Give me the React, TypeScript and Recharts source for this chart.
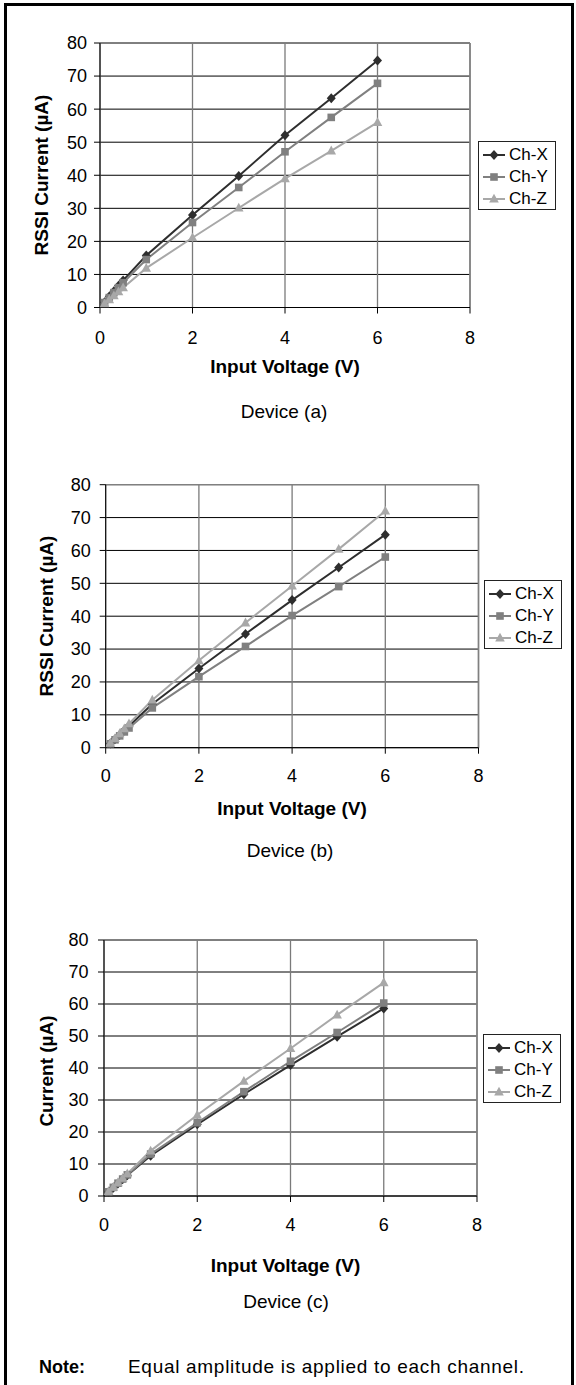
import React from 'react';
import { LineChart, Line, XAxis, YAxis, CartesianGrid, ReferenceLine, Legend } from 'recharts';

// ---------- data ----------
const voltage = [0.1, 0.2, 0.3, 0.4, 0.5, 1, 2, 3, 4, 5, 6];
const xTicks = [0, 2, 4, 6, 8];
const yTicks = [0, 10, 20, 30, 40, 50, 60, 70, 80];
const seriesNames = ['Ch-X', 'Ch-Y', 'Ch-Z'];

const devAX = [1.6, 3.3, 4.9, 6.6, 8.2, 15.7, 28.0, 39.8, 52.1, 63.3, 74.7];
const devAY = [1.5, 3.0, 4.5, 6.0, 7.5, 14.5, 25.7, 36.3, 47.1, 57.5, 67.8];
const devAZ = [1.2, 2.4, 3.6, 4.8, 6.0, 11.9, 21.1, 30.1, 39.0, 47.4, 56.0];

const devBX = [1.3, 2.6, 3.9, 5.2, 6.6, 13.3, 24.1, 34.6, 44.9, 54.8, 64.8];
const devBY = [1.2, 2.4, 3.6, 4.8, 6.0, 12.1, 21.6, 30.8, 40.2, 49.0, 58.0];
const devBZ = [1.4, 2.8, 4.3, 5.8, 7.3, 14.5, 26.5, 38.0, 49.2, 60.4, 72.0];

const devCX = [1.3, 2.6, 3.9, 5.2, 6.5, 12.6, 22.4, 31.8, 40.9, 49.8, 58.6];
const devCY = [1.3, 2.7, 4.0, 5.3, 6.6, 13.1, 22.9, 32.6, 42.1, 51.1, 60.3];
const devCZ = [1.4, 2.8, 4.2, 5.6, 7.0, 14.1, 25.3, 35.9, 46.1, 56.6, 66.7];

const captions = ['Device (a)', 'Device (b)', 'Device (c)'];
const yTitles = ['RSSI Current (µA)', 'RSSI Current (µA)', 'Current (µA)'];
const xTitle = 'Input Voltage (V)';
const noteLabel = 'Note:';
const noteText = 'Equal amplitude is applied to each channel.';

// ---------- styles ----------
const FONT = '"Liberation Sans", Arial, Helvetica, sans-serif';
const CHART_W = 576;
const CHART_H = 440;
const Y_AXIS_W = 60;
const X_AXIS_H = 60;

const seriesStyle: Record<string, { color: string; shape: string; key: string }> = {
  'Ch-X': { color: '#2e2e2e', shape: 'diamond', key: 'x' },
  'Ch-Y': { color: '#808080', shape: 'square', key: 'y' },
  'Ch-Z': { color: '#a8a8a8', shape: 'triangle', key: 'z' },
};

const layouts = [
  {
    top: 0, plotLeft: 100, plotRight: 470, plotTop: 43, plotBottom: 307.5,
    yTitleX: 41.7, yTitleY: 175, xTitleX: 285, xTitleY: 366.7,
    xTickMargin: 18, yTickMargin: 7, legendLeft: 478, legendTop: 141,
    captionX: 284, captionY: 411.7,
  },
  {
    top: 440, plotLeft: 105.7, plotRight: 478.5, plotTop: 44.7, plotBottom: 307.7,
    yTitleX: 46, yTitleY: 176, xTitleX: 292, xTitleY: 368,
    xTickMargin: 16, yTickMargin: 9, legendLeft: 484, legendTop: 140,
    captionX: 290, captionY: 411,
  },
  {
    top: 880, plotLeft: 104, plotRight: 477, plotTop: 60, plotBottom: 316,
    yTitleX: 46, yTitleY: 191, xTitleX: 285.5, xTitleY: 385,
    xTickMargin: 16, yTickMargin: 9.5, legendLeft: 483, legendTop: 154,
    captionX: 286, captionY: 422,
  },
];

const deviceSeries = [
  [devAX, devAY, devAZ],
  [devBX, devBY, devBZ],
  [devCX, devCY, devCZ],
];

function Marker({ shape, cx, cy, color }: { shape: string; cx: number; cy: number; color: string }) {
  if (cx == null || cy == null || isNaN(cx) || isNaN(cy)) return null;
  if (shape === 'diamond') {
    return <path d={`M${cx},${cy - 5} L${cx + 4.5},${cy} L${cx},${cy + 5} L${cx - 4.5},${cy} Z`} fill={color} />;
  }
  if (shape === 'square') {
    return <rect x={cx - 3.8} y={cy - 3.8} width={7.6} height={7.6} fill={color} />;
  }
  return <path d={`M${cx},${cy - 5.2} L${cx + 4.8},${cy + 3.6} L${cx - 4.8},${cy + 3.6} Z`} fill={color} />;
}

function LegendBox(props: any) {
  const payload = (props && props.payload) || [];
  const items = payload.length ? payload : seriesNames.map((n) => ({ value: n }));
  return (
    <div
      style={{
        border: '1px solid #222',
        width: 78,
        height: 69,
        boxSizing: 'border-box',
        background: '#fff',
        fontFamily: FONT,
        fontSize: 17,
        color: '#000',
        paddingTop: 2,
      }}
    >
      {items.map((it: any) => {
        const st = seriesStyle[it.value];
        return (
          <div key={it.value} style={{ display: 'flex', alignItems: 'center', height: 22 }}>
            <svg width={26} height={14} style={{ marginLeft: 3, display: 'block' }}>
              <line x1={1} y1={7} x2={23} y2={7} stroke={st.color} strokeWidth={2} />
              <Marker shape={st.shape} cx={12} cy={7} color={st.color} />
            </svg>
            <span style={{ marginLeft: 1, lineHeight: '22px' }}>{it.value}</span>
          </div>
        );
      })}
    </div>
  );
}

function DeviceChart({ idx }: { idx: number }) {
  const L = layouts[idx];
  const [xs, ys, zs] = deviceSeries[idx];
  const data = voltage.map((v, i) => ({ v, x: xs[i], y: ys[i], z: zs[i] }));
  const margin = {
    top: L.plotTop,
    left: L.plotLeft - Y_AXIS_W,
    right: CHART_W - L.plotRight,
    bottom: CHART_H - L.plotBottom - X_AXIS_H,
  };
  const yTitle = yTitles[idx];
  const tickStyle = { fill: '#000', fontSize: 18, fontFamily: FONT };

  return (
    <div style={{ position: 'absolute', left: 0, top: L.top, width: CHART_W, height: CHART_H }}>
      <LineChart width={CHART_W} height={CHART_H} data={data} margin={margin}>
        <CartesianGrid vertical={false} stroke="#000" strokeWidth={1} />
        <CartesianGrid horizontal={false} stroke="#7a7a7a" strokeWidth={1.3} />
        <ReferenceLine y={80} stroke="#808080" strokeWidth={1.2} />
        <ReferenceLine x={8} stroke="#808080" strokeWidth={1.5} />
        <XAxis
          dataKey="v"
          type="number"
          domain={[0, 8]}
          ticks={xTicks}
          interval={0}
          height={X_AXIS_H}
          tickSize={6}
          tickMargin={L.xTickMargin}
          tick={tickStyle}
          axisLine={{ stroke: '#000', strokeWidth: 1 }}
          tickLine={{ stroke: '#000' }}
          label={() => (
            <text
              x={L.xTitleX}
              y={L.xTitleY}
              textAnchor="middle"
              dominantBaseline="central"
              fontFamily={FONT}
              fontWeight="bold"
              fontSize={19}
              fill="#000"
            >
              {xTitle}
            </text>
          )}
        />
        <YAxis
          type="number"
          domain={[0, 80]}
          ticks={yTicks}
          interval={0}
          width={Y_AXIS_W}
          tickSize={6}
          tickMargin={L.yTickMargin}
          tick={tickStyle}
          axisLine={{ stroke: '#000', strokeWidth: 1 }}
          tickLine={{ stroke: '#000' }}
          label={() => (
            <text
              x={L.yTitleX}
              y={L.yTitleY}
              transform={`rotate(-90 ${L.yTitleX} ${L.yTitleY})`}
              textAnchor="middle"
              dominantBaseline="central"
              fontFamily={FONT}
              fontWeight="bold"
              fontSize={19}
              fill="#000"
            >
              {yTitle}
            </text>
          )}
        />
        <Legend
          layout="vertical"
          align="center"
          verticalAlign="middle"
          content={(p: any) => <LegendBox {...p} />}
          wrapperStyle={{ left: L.legendLeft, top: L.legendTop, width: 78, height: 69, bottom: 'auto', right: 'auto' }}
        />
        {seriesNames.map((name) => {
          const st = seriesStyle[name];
          return (
            <Line
              key={name}
              type="linear"
              dataKey={st.key}
              name={name}
              stroke={st.color}
              strokeWidth={2}
              isAnimationActive={false}
              activeDot={false}
              dot={(p: any) => <Marker key={`${st.key}-${p.index}`} shape={st.shape} cx={p.cx} cy={p.cy} color={st.color} />}
            />
          );
        })}
      </LineChart>
      <div
        style={{
          position: 'absolute',
          left: L.captionX - 100,
          width: 200,
          top: L.captionY - 12,
          height: 24,
          lineHeight: '24px',
          textAlign: 'center',
          fontFamily: FONT,
          fontSize: 19,
          color: '#000',
        }}
      >
        {captions[idx]}
      </div>
    </div>
  );
}

export default function App() {
  return (
    <div
      style={{
        position: 'absolute',
        left: 0,
        top: 0,
        width: 576,
        height: 1385,
        background: '#fff',
        overflow: 'hidden',
      }}
    >
      <div
        style={{
          position: 'absolute',
          left: 4,
          top: 3,
          width: 570,
          height: 1390,
          boxSizing: 'border-box',
          borderLeft: '3px solid #000',
          borderTop: '3px solid #000',
          borderRight: '3px solid #000',
        }}
      />
      {[0, 1, 2].map((i) => (
        <DeviceChart key={i} idx={i} />
      ))}
      <div
        style={{
          position: 'absolute',
          left: 39,
          top: 1355,
          height: 24,
          lineHeight: '24px',
          fontFamily: FONT,
          fontSize: 18,
          fontWeight: 'bold',
          color: '#000',
        }}
      >
        {noteLabel}
      </div>
      <div
        style={{
          position: 'absolute',
          left: 128,
          top: 1355,
          height: 24,
          lineHeight: '24px',
          fontFamily: FONT,
          fontSize: 19,
          letterSpacing: 0.7,
          color: '#000',
          whiteSpace: 'nowrap',
        }}
      >
        {noteText}
      </div>
    </div>
  );
}
